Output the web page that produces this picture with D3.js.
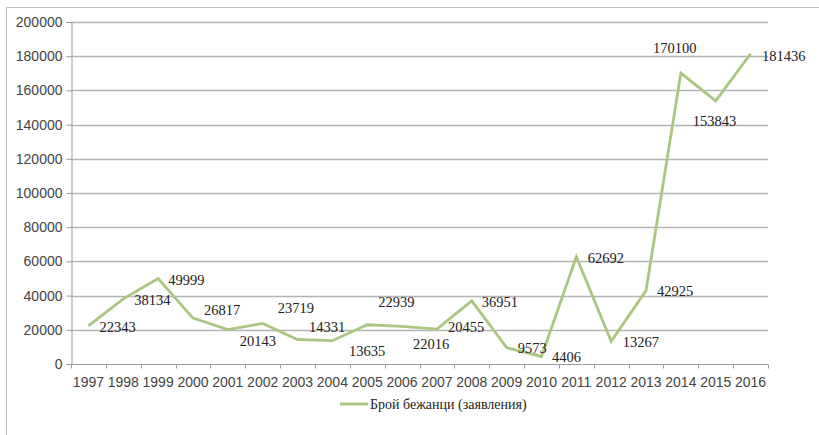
<!DOCTYPE html>
<html>
<head>
<meta charset="utf-8">
<script src="https://cdn.jsdelivr.net/npm/d3@7"></script>
<style>
  html, body { margin: 0; padding: 0; background: #fff; }
  svg { display: block; }
</style>
</head>
<body>
<svg id="chart" width="819" height="435"></svg>
<script>
// Asylum applications per year
const years = ["1997","1998","1999","2000","2001","2002","2003","2004","2005","2006",
               "2007","2008","2009","2010","2011","2012","2013","2014","2015","2016"];
const refugees = [22343, 38134, 49999, 26817, 20143, 23719, 14331, 13635, 22939, 22016,
                  20455, 36951, 9573, 4406, 62692, 13267, 42925, 170100, 153843, 181436];
const yTicks = [0, 20000, 40000, 60000, 80000, 100000, 120000, 140000, 160000, 180000, 200000];
const seriesName = "Брой бежанци (заявления)";

// label nudges [dx, dy] from each point (label is left-anchored, vertically centred)
const labelOffsets = [
  [11, 1], [11, 1], [10, 1.5], [11, -8], [12, 11], [15, -16], [11.5, -12.5], [16.5, 10],
  [11, -23], [11, 17.5], [11, -2], [10, 1], [11, 0.5], [10.5, 0.5], [11.5, 1], [11.5, 0.5],
  [11, 0], [-28, -25.5], [-23, 20], [11.5, 2]
];

const svg = d3.select("#chart");
const plot = { left: 71, right: 768, top: 22, bottom: 364 };

const x = d3.scaleBand().domain(years).range([plot.left, plot.right]).padding(0);
const y = d3.scaleLinear().domain([0, 200000]).range([plot.bottom, plot.top]);

// outer frame (left and top edges)
svg.append("path")
  .attr("d", `M6.5,435 L6.5,7.5 L819,7.5`)
  .attr("fill", "none")
  .attr("stroke", "#bdbdbd")
  .attr("stroke-width", 1);

// horizontal gridlines
svg.append("g")
  .selectAll("line")
  .data(yTicks.filter(t => t > 0))
  .join("line")
  .attr("x1", plot.left).attr("x2", plot.right)
  .attr("y1", d => Math.round(y(d)) + 0.5).attr("y2", d => Math.round(y(d)) + 0.5)
  .attr("stroke", "#b4b4b4")
  .attr("stroke-width", 1.4);

// y axis
const yAxis = d3.axisLeft(y).tickValues(yTicks).tickSize(5).tickPadding(4).tickFormat(d3.format("d"));
const gy = svg.append("g")
  .attr("transform", `translate(${plot.left + 0.5},0)`)
  .call(yAxis);
gy.select(".domain").attr("stroke", "#9a9a9a");
gy.selectAll(".tick line").attr("stroke", "#9a9a9a");
gy.selectAll(".tick text")
  .attr("font-family", "'Liberation Sans', Arial, sans-serif")
  .attr("font-size", 14)
  .attr("fill", "#444");

// x axis: ticks sit between categories
const xAxisG = svg.append("g").attr("transform", `translate(0,${plot.bottom + 0.5})`);
xAxisG.append("line")
  .attr("x1", plot.left).attr("x2", plot.right)
  .attr("stroke", "#9a9a9a");
const boundaries = years.map(yr => x(yr)).concat([x(years[years.length - 1]) + x.bandwidth()]);
xAxisG.selectAll("line.tk")
  .data(boundaries)
  .join("line")
  .attr("class", "tk")
  .attr("x1", d => Math.round(d) + 0.5).attr("x2", d => Math.round(d) + 0.5)
  .attr("y1", 0).attr("y2", 4)
  .attr("stroke", "#9a9a9a");
xAxisG.selectAll("text")
  .data(years)
  .join("text")
  .attr("x", d => x(d) + x.bandwidth() / 2)
  .attr("y", 18)
  .attr("dy", "0.35em")
  .attr("text-anchor", "middle")
  .attr("font-family", "'Liberation Sans', Arial, sans-serif")
  .attr("font-size", 14)
  .attr("fill", "#444")
  .text(d => d);

// series line
const cx = (d, i) => x(years[i]) + x.bandwidth() / 2;
const line = d3.line().x(cx).y(d => y(d));
svg.append("path")
  .datum(refugees)
  .attr("d", line)
  .attr("fill", "none")
  .attr("stroke", "#abc682")
  .attr("stroke-width", 2.8)
  .attr("stroke-linejoin", "miter");

// data labels
svg.append("g")
  .selectAll("text")
  .data(refugees)
  .join("text")
  .attr("x", (d, i) => cx(d, i) + labelOffsets[i][0])
  .attr("y", (d, i) => y(d) + labelOffsets[i][1])
  .attr("dy", "0.35em")
  .attr("font-family", "'Liberation Serif', 'Times New Roman', serif")
  .attr("font-size", 14.5)
  .attr("fill", "#222")
  .text(d => d);

// legend
const lg = svg.append("g").attr("transform", "translate(340,404)");
lg.append("line")
  .attr("x1", 0).attr("x2", 28)
  .attr("stroke", "#abc682")
  .attr("stroke-width", 3);
lg.append("text")
  .attr("x", 30)
  .attr("y", 0)
  .attr("dy", "0.35em")
  .attr("font-family", "'Liberation Serif', 'Times New Roman', serif")
  .attr("font-size", 14)
  .attr("fill", "#222")
  .text(seriesName);
</script>
</body>
</html>
